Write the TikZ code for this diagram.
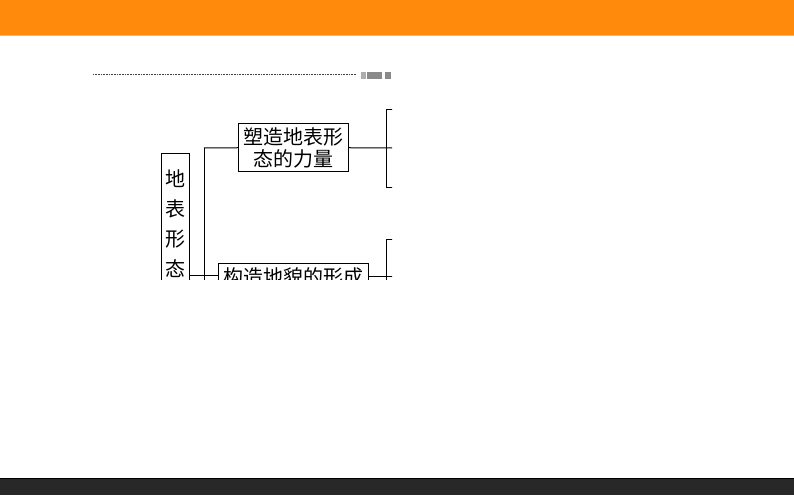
\documentclass[tikz,border=0pt]{standalone}
\usepackage{fontspec}
\newfontfamily\cjk{Noto Sans CJK SC}
\definecolor{topbar}{HTML}{FF8A0C}
\definecolor{topline}{HTML}{FFB45A}
\definecolor{botbar}{HTML}{282828}
\definecolor{blob}{HTML}{8A8A8A}
\begin{document}
\begin{tikzpicture}[x=1pt,y=-1pt,
  box/.style={draw=black,line width=1pt,fill=white,inner xsep=5pt,inner ysep=4pt,align=center,
    font=\cjk\fontsize{20}{22}\selectfont},
  vbox/.style={draw=black,line width=1pt,fill=white,inner xsep=4pt,inner ysep=16pt,align=center,
    font=\cjk\fontsize{20}{30}\selectfont},
  conn/.style={line width=1pt,black}]
\useasboundingbox (0,0) rectangle (794,495);
\fill[white] (0,0) rectangle (794,495);
% top and bottom bars
\fill[topbar] (0,0) rectangle (794,35);
\fill[topline] (0,35) rectangle (794,36.5);
\fill[botbar] (0,478) rectangle (794,495);
\draw[black,line width=1pt] (0,478.5) -- (794,478.5);
% dotted rule and grey heading blob
\draw[darkgray,line width=0.8pt,dash pattern=on 0.8pt off 0.8pt] (93,74.5) -- (356,74.5);
\fill[blob!70] (361,72) rectangle (366,79);
\fill[blob] (367,72) rectangle (382,79);
\fill[blob] (385,72) rectangle (391,79);
\begin{scope}
\clip (0,40) rectangle (392,279.5);
\node[vbox,anchor=north] (left) at (175,153) {地\\表\\形\\态\rule[-106pt]{0pt}{0pt}};
\node[box,anchor=north] (upper) at (293.5,123) {塑造地表形\\态的力量};
\node[box,anchor=north] (lower) at (293,263) {构造地貌的形成};
\coordinate (spine top) at (204,148);
\coordinate (spine bot) at (204,400);
\coordinate (rb1 top) at (386,109);
\coordinate (rb1 bot) at (386,187);
\coordinate (rb1 topend) at (400,109);
\coordinate (rb1 botend) at (400,187);
\coordinate (rb1 mid) at (400,148);
\coordinate (rb2 top) at (386,239);
\coordinate (rb2 bot) at (386,330);
\coordinate (rb2 topend) at (400,239);
\coordinate (rb2 midend) at (400,276);
\draw[conn] (spine top) -- (spine bot);
\draw[conn] (upper.west) -- (spine top);
\draw[conn] (left.east) -- (lower.west |- left.east);
\draw[conn] (upper.east) -- (rb1 mid);
\draw[conn] (rb1 topend) -- (rb1 top) -- (rb1 bot) -- (rb1 botend);
\draw[conn] (lower.east |- rb2 midend) -- (rb2 midend);
\draw[conn] (rb2 topend) -- (rb2 top) -- (rb2 bot);
\end{scope}
\end{tikzpicture}
\end{document}
